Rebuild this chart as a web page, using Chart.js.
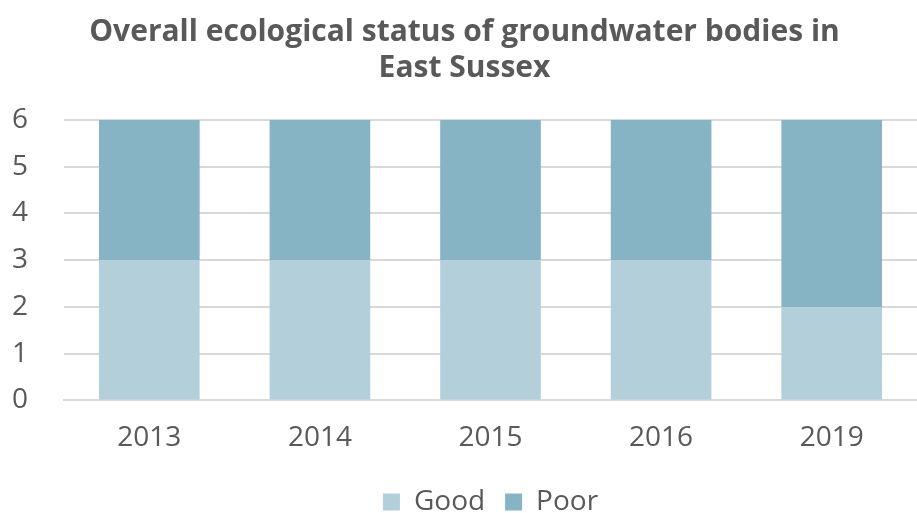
<!DOCTYPE html>
<html>
<head>
<meta charset="utf-8">
<script src="https://cdn.jsdelivr.net/npm/chart.js@4"></script>
<style>
  html, body { margin: 0; padding: 0; background: #fff; }
  #wrap { width: 917px; height: 513px; }
</style>
</head>
<body>
<div id="wrap"><canvas id="groundwater"></canvas></div>
<script>
const years = ['2013', '2014', '2015', '2016', '2019'];
const good = [3, 3, 3, 3, 2];
const poor = [3, 3, 3, 3, 4];
const yTicks = [0, 1, 2, 3, 4, 5, 6];

const fontFamily = '"Open Sans", "DejaVu Sans", sans-serif';
const textColor = '#595959';

const ctx = document.getElementById('groundwater');

new Chart(ctx, {
    type: 'bar',
    data: {
        labels: years,
        datasets: [{
                label: 'Good',
                data: good,
                backgroundColor: '#b3d0da',
                borderWidth: 0,
                barPercentage: 0.59,
                categoryPercentage: 1
            },
            {
                label: 'Poor',
                data: poor,
                backgroundColor: '#86b4c5',
                borderWidth: 0,
                barPercentage: 0.59,
                categoryPercentage: 1
            }]
    },
    options: {
        responsive: true,
        maintainAspectRatio: false,
        animation: false,
        layout: { padding: { left: 12, right: 0, top: 14, bottom: -13 } },
        plugins: {
            title: {
                display: true,
                text: ['Overall ecological status of groundwater bodies in', 'East Sussex'],
                color: textColor,
                font: { family: fontFamily, size: 30, weight: 'bold' },
                lineHeight: 1.27,
                padding: { top: 0, bottom: 34 }
            },
            legend: {
                position: 'bottom',
                fullSize: false,
                labels: {
                    color: textColor,
                    font: { family: fontFamily, size: 28 },
                    boxWidth: 17,
                    boxHeight: 17,
                    padding: 20
                }
            },
            tooltip: { enabled: false }
        },
        scales: {
            x: {
                stacked: true,
                grid: { display: false },
                border: { color: '#d9d9d9', width: 2 },
                ticks: {
                    color: textColor,
                    font: { family: fontFamily, size: 28 },
                    padding: 13
                }
            },
            y: {
                stacked: true,
                min: 0,
                max: 6,
                afterBuildTicks: axis => { axis.ticks = yTicks.map(v => ({ value: v })); },
                grid: { color: '#d9d9d9', lineWidth: 2, drawTicks: false },
                border: { display: false },
                ticks: {
                    color: textColor,
                    font: { family: fontFamily, size: 28 },
                    crossAlign: 'far',
                    padding: 18
                }
            }
        }
    }
});
</script>
</body>
</html>
